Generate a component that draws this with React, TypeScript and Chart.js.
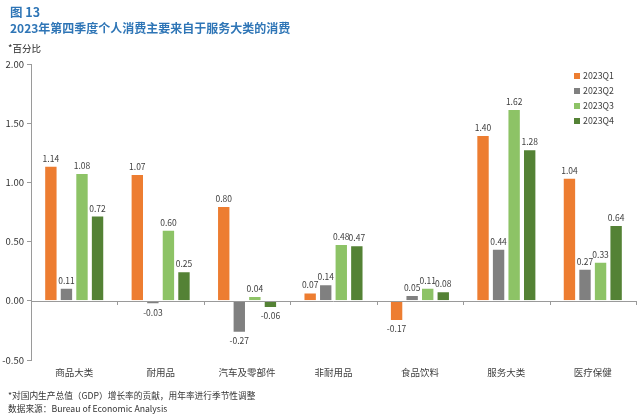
import React, { useEffect, useRef } from "react";
import { Chart, registerables } from "chart.js";

Chart.register(...registerables);

const categories = ["商品大类", "耐用品", "汽车及零部件", "非耐用品", "食品饮料", "服务大类", "医疗保健"];
const seriesNames = ["2023Q1", "2023Q2", "2023Q3", "2023Q4"];
const q1 = [1.14, 1.07, 0.8, 0.07, -0.17, 1.4, 1.04];
const q2 = [0.11, -0.03, -0.27, 0.14, 0.05, 0.44, 0.27];
const q3 = [1.08, 0.6, 0.04, 0.48, 0.11, 1.62, 0.33];
const q4 = [0.72, 0.25, -0.06, 0.47, 0.08, 1.28, 0.64];
const colors = ["#ED7D31", "#808080", "#8DC366", "#548235"];
const yTicks = [-0.5, 0, 0.5, 1.0, 1.5, 2.0];

const FONT = "'Noto Sans CJK SC', 'Noto Sans', sans-serif";

const labelPlugin = {
  id: "valueLabels",
  afterDatasetsDraw(chart: any) {
    const ctx = chart.ctx;
    ctx.save();
    ctx.font = `8.5px ${FONT}`;
    ctx.fillStyle = "#404040";
    ctx.textAlign = "center";
    chart.data.datasets.forEach((ds: any, i: number) => {
      const meta = chart.getDatasetMeta(i);
      meta.data.forEach((bar: any, j: number) => {
        const v = ds.data[j];
        const txt = v.toFixed(2);
        if (v >= 0) {
          ctx.textBaseline = "bottom";
          ctx.fillText(txt, bar.x, bar.y - 3);
        } else {
          ctx.textBaseline = "top";
          ctx.fillText(txt, bar.x, bar.y + 4);
        }
      });
    });
    ctx.restore();
  },
};

const axisPlugin = {
  id: "zeroAxis",
  afterDatasetsDraw(chart: any) {
    const ctx = chart.ctx;
    const y = chart.scales.y.getPixelForValue(0);
    const area = chart.chartArea;
    ctx.save();
    ctx.strokeStyle = "#9a9a9a";
    ctx.lineWidth = 1;
    ctx.beginPath();
    ctx.moveTo(area.left, Math.round(y) + 0.5);
    ctx.lineTo(area.right, Math.round(y) + 0.5);
    const n = categories.length;
    const w = (area.right - area.left) / n;
    for (let i = 1; i <= n; i++) {
      const xx = Math.round(area.left + w * i) + 0.5;
      ctx.moveTo(xx, Math.round(y));
      ctx.lineTo(xx, Math.round(y) + 4);
    }
    ctx.stroke();
    ctx.restore();
  },
};

export default function App() {
  const ref = useRef<HTMLCanvasElement>(null);
  useEffect(() => {
    document.body.style.margin = "0";
    const series = [q1, q2, q3, q4];
    const chart = new Chart(ref.current!, {
      type: "bar",
      data: {
        labels: categories,
        datasets: series.map((d, i) => ({
          label: seriesNames[i],
          data: d,
          backgroundColor: colors[i],
          borderColor: "#ffffff",
          borderWidth: 1,
          categoryPercentage: 0.72,
          barPercentage: 0.86,
        })),
      },
      options: {
        responsive: false,
        animation: false,
        devicePixelRatio: 1,
        layout: { padding: { top: 64, right: 4, bottom: 0, left: 0 } },
        plugins: { legend: { display: false }, tooltip: { enabled: false } },
        scales: {
          x: {
            grid: { display: false, drawTicks: false },
            border: { display: false },
            ticks: { font: { family: FONT, size: 9.5 }, color: "#404040", padding: 7, maxRotation: 0 },
            afterFit: (s: any) => { s.height = 57; },
          },
          y: {
            min: -0.5,
            max: 2.0,
            afterBuildTicks: (s: any) => { s.ticks = yTicks.map((v) => ({ value: v })); },
            grid: { drawOnChartArea: false, drawTicks: true, tickLength: 4, color: "#9a9a9a" },
            border: { display: true, color: "#9a9a9a" },
            ticks: {
              font: { family: FONT, size: 9.5 },
              color: "#333333",
              padding: 3,
              callback: (v: any) => Number(v).toFixed(2),
            },
            afterFit: (s: any) => { s.width = 31; },
          },
        },
      },
      plugins: [axisPlugin, labelPlugin],
    });
    return () => chart.destroy();
  }, []);

  const blue = "#2E75B6";
  return (
    <div style={{ position: "relative", width: 640, height: 417, background: "#fff", fontFamily: FONT, overflow: "hidden" }}>
      <canvas ref={ref} width={640} height={417} style={{ position: "absolute", left: 0, top: 0 }} />
      <div style={{ position: "absolute", left: 10, top: 4, color: blue, fontWeight: 700, fontSize: 12.5, lineHeight: "16px" }}>图 13</div>
      <div style={{ position: "absolute", left: 10, top: 20, color: blue, fontWeight: 700, fontSize: 12, lineHeight: "16px" }}>
        2023年第四季度个人消费主要来自于服务大类的消费
      </div>
      <div style={{ position: "absolute", left: 8, top: 41, color: "#222", fontSize: 9.5, lineHeight: "14px" }}>*百分比</div>
      <div style={{ position: "absolute", left: 574, top: 68, fontSize: 8.8, color: "#404040", lineHeight: "15px" }}>
        {seriesNames.map((n, i) => (
          <div key={n} style={{ display: "flex", alignItems: "center", height: 15 }}>
            <span style={{ display: "inline-block", width: 6, height: 6, background: colors[i], marginRight: 3 }} />
            {n}
          </div>
        ))}
      </div>
      <div style={{ position: "absolute", left: 8, top: 389, color: "#333", fontSize: 8.7, lineHeight: "13px" }}>
        *对国内生产总值（GDP）增长率的贡献，用年率进行季节性调整
      </div>
      <div style={{ position: "absolute", left: 8, top: 402, color: "#333", fontSize: 8.7, lineHeight: "13px" }}>
        数据来源：Bureau of Economic Analysis
      </div>
    </div>
  );
}
